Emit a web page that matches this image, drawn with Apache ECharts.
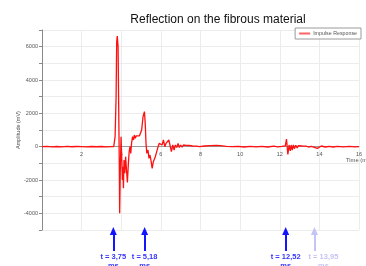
<!DOCTYPE html>
<html>
<head>
<meta charset="utf-8">
<script src="https://cdn.jsdelivr.net/npm/echarts@6/dist/echarts.min.js"></script>
<style>
  html, body { margin: 0; padding: 0; background: #fff; }
  #chart { width: 366px; height: 266px; }
</style>
</head>
<body>
<div id="chart"></div>
<script>
// time axis (ms) and measured amplitude (mV)
var timeMs = [
  0, 0.25, 0.5, 0.75, 1, 1.25, 1.5, 1.75, 2, 2.25, 2.5, 2.75, 3, 3.25, 3.5, 3.62,
  3.69, 3.74, 3.77, 3.8, 3.84, 3.87, 3.9, 3.92, 3.95, 3.99,
  4.02, 4.06, 4.08, 4.11, 4.14, 4.18, 4.22, 4.26, 4.31, 4.36, 4.4, 4.44, 4.48,
  4.52, 4.57, 4.62, 4.66, 4.71, 4.76, 4.81, 4.86, 4.92, 4.98,
  5.03, 5.1, 5.17, 5.21, 5.25, 5.29, 5.35, 5.4, 5.45, 5.51, 5.56, 5.62, 5.67,
  5.72, 5.79, 5.86, 5.92,
  6.0, 6.06, 6.13, 6.2, 6.26, 6.33, 6.4, 6.46, 6.53, 6.6, 6.67, 6.73, 6.8, 6.87, 6.93,
  7.0, 7.07, 7.14, 7.2, 7.27, 7.35, 7.42, 7.5, 7.6, 7.7, 7.8, 7.95,
  8.2, 8.5, 8.8, 9.0, 9.3, 9.6, 9.9, 10.2, 10.5, 10.8, 11.1, 11.4, 11.7, 11.9,
  12.1, 12.2, 12.28, 12.34, 12.41, 12.47, 12.53, 12.58, 12.63, 12.69, 12.74,
  12.81, 12.88, 12.94, 13.03, 13.13, 13.23, 13.33, 13.45, 13.6, 13.75, 13.9,
  14.0, 14.1, 14.3, 14.5, 14.7, 14.9, 15.2, 15.5, 15.8, 16
];
var amplitudeMv = [
  0, 20, -10, 10, -10, 15, -5, 10, 0, -15, 10, -5, 10, -10, 5, 0,
  600, 3000, 6300, 6630, 6000, 2500, -1000, -4000, -1500, 600,
  -500, -2000, -1200, -2500, -800, -1600, -600, -1300, -2150, -1000, -300, 0, -400,
  200, 600, 400, 700, 500, 650, 550, 700, 650, 750,
  1000, 1800, 2100, 1400, 200, -400, -200, -700, -500, -900, -1300, -900, -1000,
  -600, -300, 0, 200,
  250, 100, 400, 0, 200, 150, 400, 100, -300, 100, -200, 100, -50, 200, -50,
  100, -30, 100, -20, 80, 0, 70, -20, 40, -10, 30, 0,
  40, 60, 80, 60, 20, 0, 20, -20, 20, -10, 20, -20, 30, -10,
  20, 0, 50, 460, -460, 100, -250, 100, -200, 100, -120,
  80, -80, 60, -50, 40, -40, 30, -20, 20, -40, -100,
  0, 40, -20, 20, -20, 20, -10, 20, -10, 0
];

// markers under the plot
var arrowTimes = [3.6, 5.18, 12.3, 13.75];
var arrowLabels = ['t = 3,75', 't = 5,18', 't = 12,52', 't = 13,95'];
var arrowFaded = [false, false, false, true];

var seriesData = timeMs.map(function (t, i) { return [t, amplitudeMv[i]]; });

var arrowLines = arrowTimes.map(function (t, i) {
  var c = arrowFaded[i] ? '#c4c4f6' : '#1414ff';
  var tc = arrowFaded[i] ? '#c4c4f6' : '#3434ff';
  return [
    {
      coord: [t, 15],
      lineStyle: { color: c, width: 2, type: 'solid' },
      label: { color: tc, offset: arrowFaded[i] ? [9, 0] : [0, 0] }
    },
    { coord: [t, 35] }
  ];
});

var chart = echarts.init(document.getElementById('chart'));

chart.setOption({
  animation: false,
  backgroundColor: '#fff',
  textStyle: { fontFamily: 'Liberation Sans, Arial, sans-serif' },
  title: {
    text: 'Reflection on the fibrous material',
    left: 213,
    top: 9,
    textAlign: 'center',
    textStyle: { fontSize: 12, fontWeight: 'normal', color: '#111' }
  },
  legend: {
    right: 5,
    top: 28,
    padding: [3, 4, 3, 4],
    borderColor: '#9a9a9a',
    borderWidth: 1,
    borderRadius: 0,
    backgroundColor: '#fff',
    itemWidth: 11,
    itemHeight: 2,
    icon: 'rect',
    itemGap: 3,
    textStyle: { fontSize: 5.3, color: '#555', padding: [0, 0, 0, -2] },
    data: [{ name: 'Impulse Response', itemStyle: { color: '#ff6464' } }]
  },
  grid: [
    { left: 42, right: 7, top: 30, bottom: 36, outerBoundsMode: 'none' },
    { left: 42, right: 7, top: 230, bottom: 0, outerBoundsMode: 'none' }
  ],
  xAxis: [
    {
      type: 'value',
      min: 0,
      max: 16,
      interval: 2,
      name: 'Time (ms)',
      nameLocation: 'end',
      nameGap: -13,
      nameMoveOverlap: false,
      nameTextStyle: { fontSize: 5.8, color: '#555', align: 'left', verticalAlign: 'top', padding: [11, 0, 0, 0] },
      axisLine: { onZero: false, lineStyle: { color: '#9a9a9a' } },
      axisTick: { show: false },
      axisLabel: { fontSize: 5.5, color: '#555', margin: 5, showMinLabel: false },
      splitLine: { lineStyle: { color: '#ececec' } }
    },
    { gridIndex: 1, type: 'value', min: 0, max: 16, show: false }
  ],
  yAxis: [
    {
      type: 'value',
      min: -5000,
      max: 7000,
      interval: 1000,
      name: 'Amplitude (mV)',
      nameLocation: 'middle',
      nameGap: 21,
      nameMoveOverlap: false,
      nameTextStyle: { fontSize: 5.5, color: '#555' },
      axisLine: { show: true, onZero: false, lineStyle: { color: '#8a8a8a' } },
      axisTick: { show: true, length: 3, lineStyle: { color: '#8a8a8a' } },
      axisLabel: {
        fontSize: 5.5,
        color: '#555',
        margin: 4,
        formatter: function (v) { return v % 2000 === 0 ? String(v) : ''; }
      },
      splitLine: { lineStyle: { color: '#ececec' } }
    },
    { gridIndex: 1, type: 'value', min: 0, max: 36, show: false }
  ],
  series: [
    {
      name: 'Impulse Response',
      type: 'line',
      data: seriesData,
      showSymbol: false,
      lineStyle: { color: '#ff1010', width: 1.3 },
      itemStyle: { color: '#ff6464' }
    },
    {
      name: 'markers',
      type: 'line',
      xAxisIndex: 1,
      yAxisIndex: 1,
      data: [],
      silent: true,
      markLine: {
        silent: true,
        animation: false,
        symbol: ['none', 'triangle'],
        symbolSize: [7, 8],
        label: {
          show: true,
          position: 'start',
          distance: 1,
          fontSize: 7.5,
          fontWeight: 'bold',
          lineHeight: 9,
          formatter: function (p) { return arrowLabels[arrowTimes.indexOf(p.data.coord[0])] + '\nms'; }
        },
        emphasis: { disabled: true },
        data: arrowLines
      }
    }
  ]
});

// move the time axis up to the zero amplitude line
var yZero = chart.convertToPixel({ yAxisIndex: 0 }, 0);
var yBottom = chart.convertToPixel({ yAxisIndex: 0 }, -5000);
chart.setOption({ xAxis: [{ offset: yZero - yBottom }] });
</script>
</body>
</html>
